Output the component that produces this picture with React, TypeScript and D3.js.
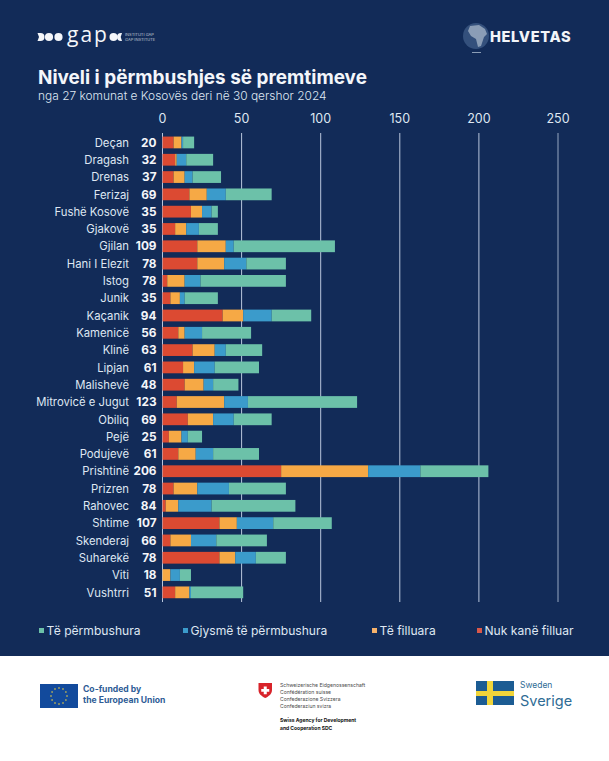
import React from "react";
import * as d3 from "d3";

const municipalities = ["Deçan","Dragash","Drenas","Ferizaj","Fushë Kosovë","Gjakovë","Gjilan","Hani I Elezit","Istog","Junik","Kaçanik","Kamenicë","Klinë","Lipjan","Malishevë","Mitrovicë e Jugut","Obiliq","Pejë","Podujevë","Prishtinë","Prizren","Rahovec","Shtime","Skenderaj","Suharekë","Viti","Vushtrri"];
const totals = [20,32,37,69,35,35,109,78,78,35,94,56,63,61,48,123,69,25,61,206,78,84,107,66,78,18,51];
const notStarted = [7,8,7,17,18,8,22,22,3,5,38,10,19,13,14,9,16,4,10,75,7,2,36,5,36,0,8];
const started = [5,1,7,11,7,7,18,17,11,6,13,4,14,7,12,30,16,8,11,55,15,8,11,13,10,5,9];
const halfDone = [1,6,5,12,6,8,5,14,10,3,18,11,7,13,6,15,13,4,11,33,20,21,23,16,13,6,1];
const fulfilled = [7,17,18,29,4,12,64,25,54,21,25,31,23,28,16,69,24,9,29,43,36,53,37,32,19,7,33];
const ticks = [0,50,100,150,200,250];

const seriesKeys = ["notStarted","started","halfDone","fulfilled"];
const seriesColors = ["#dc4a32","#f6a945","#3b9bcb","#6cc1a9"];
const legendLabels = ["Të përmbushura","Gjysmë të përmbushura","Të filluara","Nuk kanë filluar"];
const legendColors = ["#6cc1a9","#3b9bcb","#f6b26b","#d9584a"];
const legendSquareX = [39,183,372,477];

const FONT = "Inter, 'Open Sans', sans-serif";
const BG = "#122b58";
const TXT = "#dfe7f2";

export default function App() {
  const x = d3.scaleLinear().domain([0,250]).range([162.5,558]);
  const y = d3.scaleBand<string>().domain(municipalities).range([133.8,601]).paddingInner(0.32).paddingOuter(0.16);
  const rows = municipalities.map((m,i)=>({m,notStarted:notStarted[i],started:started[i],halfDone:halfDone[i],fulfilled:fulfilled[i]}));
  const stacked = d3.stack<any>().keys(seriesKeys)(rows);

  return (
    <div style={{position:"absolute",left:0,top:0,width:609,height:761}}>
      <svg width={609} height={761} style={{display:"block"}} fontFamily={FONT}>
        <rect width={609} height={656} fill={BG}/>
        <rect y={656} width={609} height={105} fill="#ffffff"/>

        {/* gap logo */}
        <g fill="#f4f6fa">
          <path d="M37.500 33h3a4 4 0 0 1 0 8h-3l1.500-4z"/>
          <circle cx={49} cy={37} r={4.1}/>
          <circle cx={58.500} cy={37} r={4.1}/>
          <text x={67} y={42} fontSize={21} letterSpacing={2} fontFamily="'Open Sans',sans-serif" fontWeight={400}>gap</text>
          <circle cx={113.500} cy={37} r={4}/>
          <path d="M122 33h-1a4 4 0 0 0 0 8h1l-1.300-4z"/>
          <text x={125} y={35.500} fontSize={4} fillOpacity={0.75}>INSTITUTI GAP</text>
          <text x={125} y={41} fontSize={4} fillOpacity={0.75}>GAP INSTITUTE</text>
        </g>

        {/* Helvetas logo */}
        <g>
          <circle cx={476} cy={36} r={13} fill="#34507c"/>
          <path d="M470 26l9-1 6 4 2 5-3 3-3 9-3 1-2-8-5-3-3-5z" fill="#8b9db6"/>
          <rect x={472} y={52} width={9} height={1} fill="#8b9db6"/>
          <text x={490} y={42} fontSize={14.600} fontWeight={800} letterSpacing={0.65} fill="#f2f5f9">HELVETAS</text>
        </g>

        <text x={38} y={83.500} fontSize={18.950} fontWeight={700} fill="#f4f6fa">Niveli i përmbushjes së premtimeve</text>
        <text x={38} y={100} fontSize={11.950} fontWeight={300} fill={TXT}>nga 27 komunat e Kosovës deri në 30 qershor 2024</text>

        {ticks.map(t=>(
          <g key={t}>
            <line x1={x(t)} x2={x(t)} y1={133} y2={602} stroke="#b9c6dc" strokeWidth={t===250?0.8:1}/>
            <text x={x(t)} y={122.500} textAnchor="middle" fontSize={12.500} fill={TXT}>{t}</text>
          </g>
        ))}

        {stacked.map((s,si)=>(
          <g key={s.key} fill={seriesColors[si]}>
            {s.map((d:any,i:number)=>(
              <rect key={i} x={x(d[0])} y={y(municipalities[i])} width={x(d[1])-x(d[0])} height={y.bandwidth()}/>
            ))}
          </g>
        ))}

        {municipalities.map((m,i)=>{
          const cy = (y(m) as number)+y.bandwidth()/2;
          return (
            <g key={m}>
              <text x={129} y={cy+4.200} textAnchor="end" fontSize={11.300} fill={TXT}>{m}</text>
              <text x={156.500} y={cy+4.200} textAnchor="end" fontSize={11.800} fontWeight={700} fill="#f4f6fa">{totals[i]}</text>
            </g>
          );
        })}

        {legendLabels.map((l,i)=>(
          <g key={l}>
            <rect x={legendSquareX[i]} y={628} width={5} height={5} fill={legendColors[i]}/>
            <text x={legendSquareX[i]+7.500} y={634.500} fontSize={12.100} fill={TXT}>{l}</text>
          </g>
        ))}

        {/* EU */}
        <rect x={40} y={684} width={38} height={24} fill="#124a9c"/>
        <g fill="#f5d63d">
          {d3.range(12).map(k=>(
            <circle key={k} cx={59+8*Math.cos(k*Math.PI/6)} cy={696+8*Math.sin(k*Math.PI/6)} r={0.8}/>
          ))}
        </g>
        <text x={83} y={692} fontSize={8.600} fontWeight={700} fill="#2e5c96">Co-funded by</text>
        <text x={83} y={703} fontSize={8.600} fontWeight={700} fill="#2e5c96">the European Union</text>

        {/* Swiss */}
        <path d="M258.500 683h13.500v7c0 4-3.500 6.500-6.750 8c-3.250-1.500-6.750-4-6.750-8z" fill="#d8232a"/>
        <path d="M263.750 686.500h3v2.500h2.500v2.800h-2.500v2.500h-3v-2.500h-2.500v-2.800h2.500z" fill="#ffffff"/>
        <g fontSize={5.100} fill="#4a4a4a">
          <text x={280} y={687}>Schweizerische Eidgenossenschaft</text>
          <text x={280} y={694}>Confédération suisse</text>
          <text x={280} y={701}>Confederazione Svizzera</text>
          <text x={280} y={708}>Confederaziun svizra</text>
        </g>
        <g fontSize={5} fontWeight={700} fill="#111">
          <text x={280} y={722}>Swiss Agency for Development</text>
          <text x={280} y={730}>and Cooperation SDC</text>
        </g>

        {/* Sweden */}
        <rect x={476} y={681} width={38} height={24} fill="#1c5c93"/>
        <rect x={487} y={681} width={6} height={24} fill="#f1d53a"/>
        <rect x={476} y={691} width={38} height={5} fill="#f1d53a"/>
        <text x={520} y={688} fontSize={8.500} fill="#2f6c95">Sweden</text>
        <text x={520} y={706} fontSize={14.500} fontWeight={400} fill="#2f6c95">Sverige</text>
      </svg>
    </div>
  );
}
